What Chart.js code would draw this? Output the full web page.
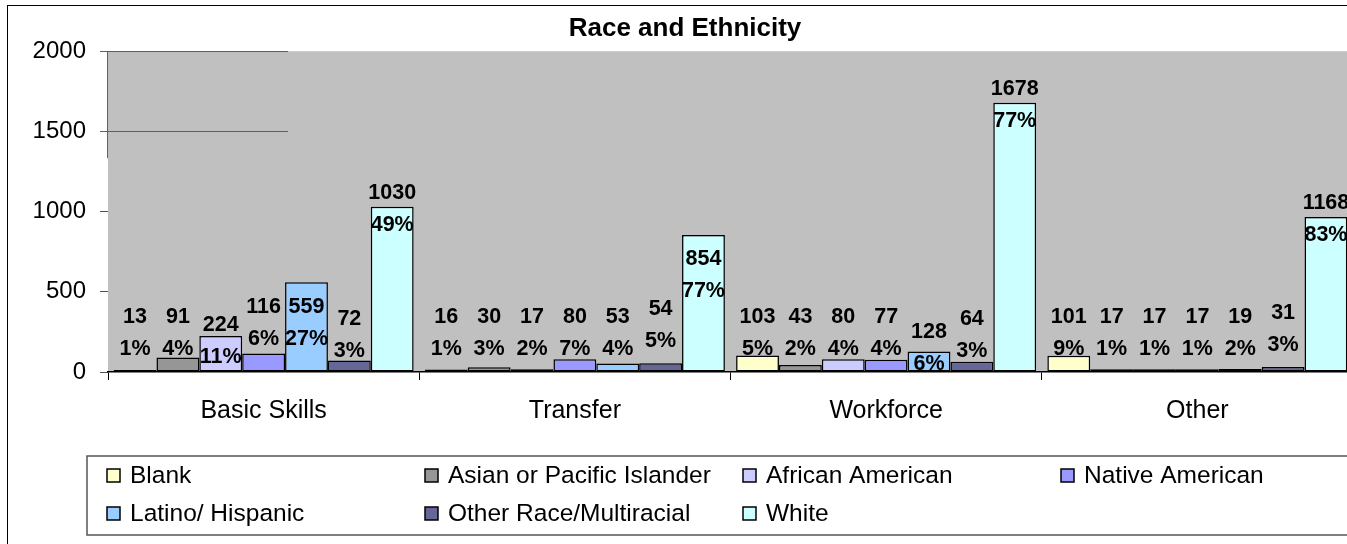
<!DOCTYPE html>
<html>
<head>
<meta charset="utf-8">
<title>Race and Ethnicity</title>
<script src="https://cdn.jsdelivr.net/npm/chart.js@4.4.1/dist/chart.umd.min.js"></script>
<style>
  html, body { margin: 0; padding: 0; background: #fff; overflow: hidden; }
  #wrap { position: absolute; left: 0; top: 0; width: 1370px; height: 544px; }
</style>
</head>
<body>
<div id="wrap"><canvas id="raceChart" width="1370" height="544"></canvas></div>
<script>
// chart data
const categories = ['Basic Skills', 'Transfer', 'Workforce', 'Other'];
const seriesNames = ['Blank', 'Asian or Pacific Islander', 'African American', 'Native American',
                     'Latino/ Hispanic', 'Other Race/Multiracial', 'White'];

const blank     = [13, 16, 103, 101];
const asian     = [91, 30, 43, 17];
const african   = [224, 17, 80, 17];
const native    = [116, 80, 77, 17];
const latino    = [559, 53, 128, 19];
const otherRace = [72, 54, 64, 31];
const white     = [1030, 854, 1678, 966];
const whiteShown = [1030, 854, 1678, 1168];   // printed count on the white bars

const blankPct     = [1, 1, 5, 9];
const asianPct     = [4, 3, 2, 1];
const africanPct   = [11, 2, 4, 1];
const nativePct    = [6, 7, 4, 1];
const latinoPct    = [27, 4, 6, 2];
const otherRacePct = [3, 5, 3, 3];
const whitePct     = [49, 77, 77, 83];

const yTicks = [0, 500, 1000, 1500, 2000];

const colors = ['#FFFFCC', '#969696', '#CCCCFF', '#9999FF', '#99CCFF', '#666699', '#CCFFFF'];
const values = [blank, asian, african, native, latino, otherRace, white];
const counts = [blank, asian, african, native, latino, otherRace, whiteShown];
const pcts = [blankPct, asianPct, africanPct, nativePct, latinoPct, otherRacePct, whitePct];

// hand-placed label offsets (px), like the dragged labels in the original
const labelNudge = { '2:0': 8, '3:0': -10, '4:0': -10, '5:0': 2, '5:1': -8, '6:1': 38,
                     '4:2': 15, '5:2': 2, '5:3': -4 };

const FONT = '"Liberation Sans", Arial, sans-serif';
Chart.defaults.font.family = FONT;
Chart.defaults.font.size = 25;
Chart.defaults.color = '#000';

const framePlugin = {
    id: 'frame',
    beforeDraw(chart) {
        const { ctx, chartArea: a } = chart;
        ctx.save();
        ctx.fillStyle = '#fff';
        ctx.fillRect(0, 0, chart.width, chart.height);
        ctx.strokeStyle = '#000';
        ctx.lineWidth = 1;
        ctx.strokeRect(7.5, 5.5, chart.width, chart.height);
        ctx.fillStyle = '#c0c0c0';
        ctx.fillRect(a.left, a.top, a.right - a.left, a.bottom - a.top);
        ctx.restore();
    },
    beforeDatasetsDraw(chart) {
        // the stray grid stubs left over in the original export
        const { ctx, chartArea: a, scales: { y } } = chart;
        ctx.save();
        ctx.strokeStyle = '#606060';
        ctx.lineWidth = 1;
        ctx.beginPath();
        [2000, 1500].forEach(v => {
            const py = Math.round(y.getPixelForValue(v)) + 0.5;
            ctx.moveTo(a.left - 8, py);
            ctx.lineTo(a.left + 180, py);
        });
        ctx.moveTo(a.left - 0.5, a.top);
        ctx.lineTo(a.left - 0.5, y.getPixelForValue(1333));
        ctx.stroke();
        ctx.restore();
    }
};

const labelPlugin = {
    id: 'barLabels',
    afterDatasetsDraw(chart) {
        const ctx = chart.ctx;
        const base = chart.scales.y.getPixelForValue(240);
        ctx.save();
        ctx.font = 'bold 21.5px ' + FONT;
        ctx.fillStyle = '#000';
        ctx.textAlign = 'center';
        ctx.textBaseline = 'middle';
        chart.data.datasets.forEach((ds, i) => {
            chart.getDatasetMeta(i).data.forEach((bar, j) => {
                let mid = i === 6 ? bar.y + 2 : base;
                mid += labelNudge[i + ':' + j] || 0;
                ctx.fillText(String(counts[i][j]), bar.x, mid - 16);
                ctx.fillText(pcts[i][j] + '%', bar.x, mid + 16);
            });
        });
        ctx.restore();
    }
};

const legendPlugin = {
    id: 'boxLegend',
    afterDraw(chart) {
        const ctx = chart.ctx;
        ctx.save();
        ctx.strokeStyle = '#555';
        ctx.lineWidth = 1.5;
        ctx.strokeRect(87, 456, chart.width, 79);
        ctx.font = '24.5px ' + FONT;
        ctx.textAlign = 'left';
        ctx.textBaseline = 'middle';
        chart.data.datasets.forEach((ds, i) => {
            const x = 107 + (i % 4) * 318;
            const cy = 476 + Math.floor(i / 4) * 38;
            ctx.fillStyle = ds.backgroundColor;
            ctx.fillRect(x, cy - 7, 13, 13);
            ctx.strokeStyle = '#000';
            ctx.lineWidth = 1.5;
            ctx.strokeRect(x, cy - 7, 13, 13);
            ctx.fillStyle = '#000';
            ctx.fillText(ds.label, x + 23, cy);
        });
        ctx.restore();
    }
};

const ctx = document.getElementById('raceChart').getContext('2d');
new Chart(ctx, {
    type: 'bar',
    data: {
        labels: categories,
        datasets: seriesNames.map((name, i) => ({
            label: name,
            data: values[i],
            backgroundColor: colors[i],
            borderColor: '#000',
            borderWidth: 1.5,
            borderSkipped: false,
            categoryPercentage: 0.964,
            barPercentage: 1
        }))
    },
    options: {
        responsive: false,
        animation: false,
        devicePixelRatio: 1,
        layout: { padding: { left: 17, right: 17, top: 0, bottom: 0 } },
        plugins: {
            legend: { display: false },
            tooltip: { enabled: false },
            title: {
                display: true,
                text: 'Race and Ethnicity',
                color: '#000',
                font: { size: 26, weight: 'bold' },
                padding: { top: 13, bottom: 7 }
            }
        },
        scales: {
            x: {
                offset: true,
                grid: { display: true, offset: true, drawOnChartArea: false, tickLength: 8, color: '#000' },
                border: { display: true, color: '#000', width: 1.5 },
                ticks: { padding: 16, color: '#000', font: { size: 25 }, maxRotation: 0 },
                afterFit(scale) { scale.height = 172; }
            },
            y: {
                min: 0,
                max: 2000,
                afterBuildTicks(scale) { scale.ticks = yTicks.map(v => ({ value: v })); },
                grid: { display: true, drawOnChartArea: false, tickLength: 8, color: '#555' },
                border: { display: false },
                ticks: {
                    padding: 14,
                    color: '#000',
                    font: { size: 24 },
                    callback: v => String(v)
                },
                afterFit(scale) { scale.width = 91; }
            }
        }
    },
    plugins: [framePlugin, labelPlugin, legendPlugin]
});
</script>
</body>
</html>
